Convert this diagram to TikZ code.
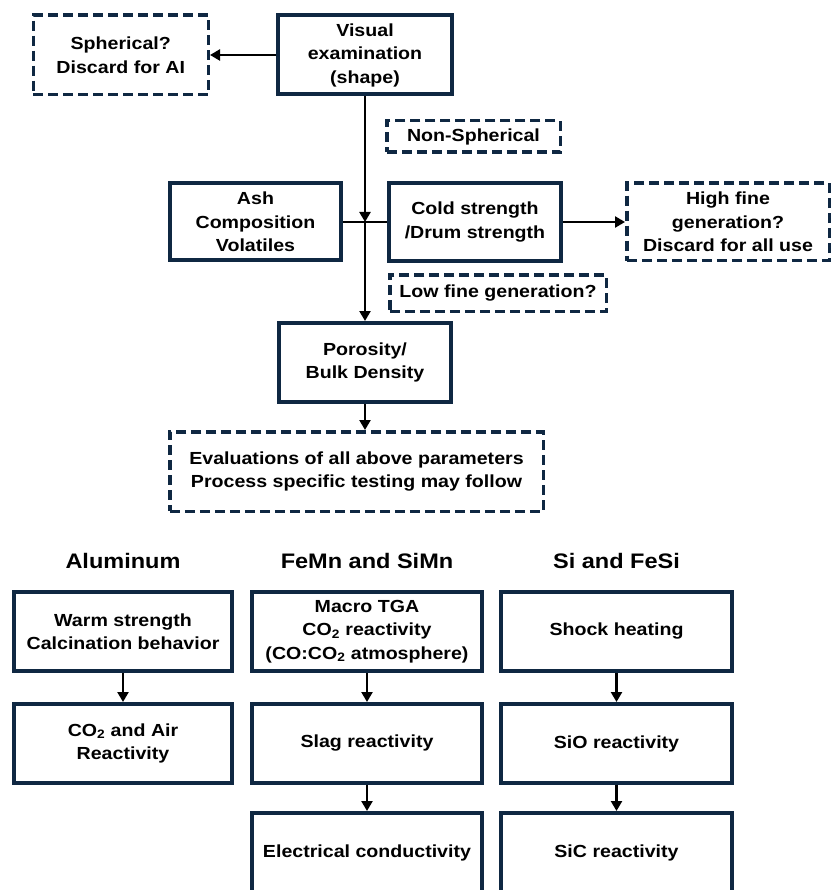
\documentclass[tikz,border=0pt]{standalone}
\usepackage{fontspec}
\setmainfont{Liberation Sans}[FakeStretch=1.12]
\usetikzlibrary{positioning,arrows.meta}
\definecolor{navy}{RGB}{15,40,66}

\begin{document}
\begin{tikzpicture}[x=1pt,y=-1pt,
    every node/.style={font=\fontsize{17.5}{23.5}\selectfont\bfseries,align=center,inner sep=2pt},
    box/.style={draw=navy,line width=4pt,minimum height=79pt},
    dbox/.style={draw=navy,line width=3.5pt,dash pattern=on 10pt off 5pt},
    head/.style={font=\fontsize{21}{25}\selectfont\bfseries},
    arr/.style={-{Triangle[width=11pt,length=10pt]},line width=2.3pt}]
    \useasboundingbox (0,0) rectangle (834,890);
    % screening part
    \node [box,minimum width=174pt]                        (visual) at (365,55)     {Visual\\examination\\(shape)};
    \node [dbox,minimum width=175pt,minimum height=79.5pt,left=66pt of visual] (spher) {Spherical?\\Discard for AI};
    \node [dbox,minimum width=173.5pt,minimum height=31.5pt] (nonsph) at (473.5,136.5) {Non-Spherical};
    \node [box,minimum width=171pt,minimum height=77pt]     (ash)    at (255.5,222) {Ash\\Composition\\Volatiles};
    \node [box,minimum width=172pt,minimum height=78pt,right=44pt of ash] (cold) {Cold strength\\/Drum strength};
    \node [dbox,minimum width=202.5pt,minimum height=77.5pt,right=62pt of cold] (high) {High fine\\generation?\\Discard for all use};
    \node [dbox,minimum width=216.5pt,minimum height=36.5pt] (low) at (498,293) {Low fine generation?};
    \node [box,minimum width=172pt]                        (poro)   at (365,362.5) {Porosity/\\Bulk Density};
    \node [dbox,minimum width=373.5pt,minimum height=79.5pt] (eval) at (356.5,471.5) {Evaluations of all above parameters\\Process specific testing may follow};

    \coordinate (jn) at (visual.south |- ash.east);
    \draw [arr] (visual) -- (spher);
    \draw [arr] (visual) -- (jn);
    \draw [line width=2.3pt] (ash) -- (cold);
    \draw [arr] (jn) -- (poro);
    \draw [arr] (cold) -- (high);
    \draw [arr] (poro) -- (poro.south |- eval.north);

    % process specific part
    \node [head] (alhead) at (123,561)   {Aluminum};
    \node [head] (fehead) at (367,561)   {FeMn and SiMn};
    \node [head] (sihead) at (616.5,561) {Si and FeSi};

    \node [box,minimum width=218pt] (al1) at (123,631.5)   {Warm strength\\Calcination behavior};
    \node [box,minimum width=230pt] (fe1) at (367,631.5)   {Macro TGA\\CO\textsubscript{2} reactivity\\(CO:CO\textsubscript{2} atmosphere)};
    \node [box,minimum width=231pt] (si1) at (616.5,631.5) {Shock heating};
    \node [box,minimum width=218pt,below=29pt of al1] (al2) {CO\textsubscript{2} and Air\\Reactivity};
    \node [box,minimum width=230pt,below=29pt of fe1] (fe2) {Slag reactivity};
    \node [box,minimum width=231pt,below=29pt of si1] (si2) {SiO reactivity};
    \node [box,minimum width=230pt,below=26pt of fe2] (fe3) {Electrical conductivity};
    \node [box,minimum width=231pt,below=26pt of si2] (si3) {SiC reactivity};

    \draw [arr] (al1) -- (al2);
    \draw [arr] (fe1) -- (fe2);
    \draw [arr] (fe2) -- (fe3);
    \draw [arr] (si1) -- (si2);
    \draw [arr] (si2) -- (si3);
\end{tikzpicture}
\end{document}
